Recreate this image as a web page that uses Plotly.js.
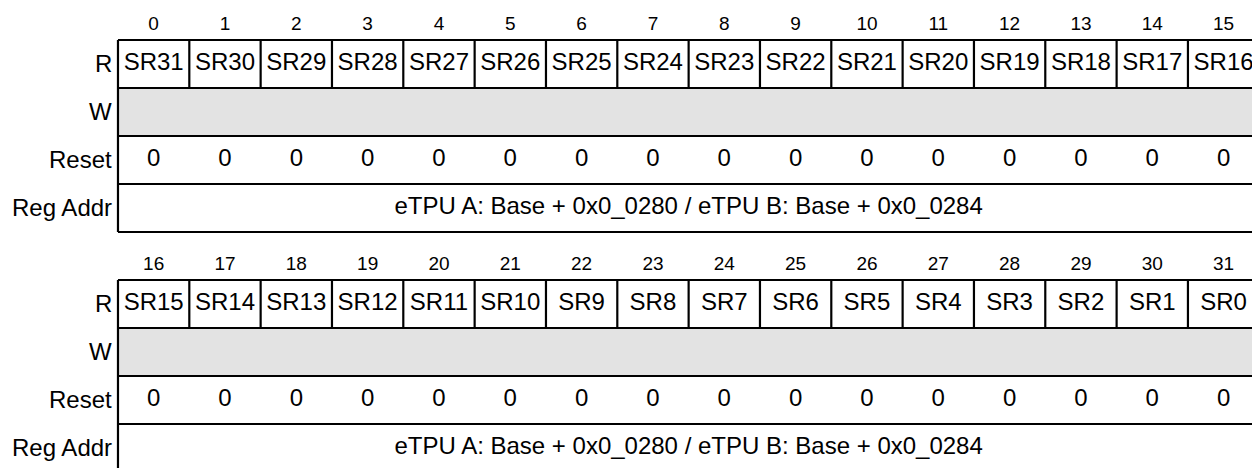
<!DOCTYPE html>
<html>
<head>
<meta charset="utf-8">
<script src="https://cdn.plot.ly/plotly-3.0.1.min.js"></script>
<style>
  html, body { margin: 0; padding: 0; background: #ffffff; }
  #chart { width: 1252px; height: 468px; }
</style>
</head>
<body>
<div id="chart"></div>
<script>
// ---- data ----
const bitNumbersTop = [0, 1, 2, 3, 4, 5, 6, 7, 8, 9, 10, 11, 12, 13, 14, 15];
const bitNumbersBottom = [16, 17, 18, 19, 20, 21, 22, 23, 24, 25, 26, 27, 28, 29, 30, 31];
const fieldNamesTop = ["SR31", "SR30", "SR29", "SR28", "SR27", "SR26", "SR25", "SR24",
                       "SR23", "SR22", "SR21", "SR20", "SR19", "SR18", "SR17", "SR16"];
const fieldNamesBottom = ["SR15", "SR14", "SR13", "SR12", "SR11", "SR10", "SR9", "SR8",
                          "SR7", "SR6", "SR5", "SR4", "SR3", "SR2", "SR1", "SR0"];
const resetValuesTop = [0, 0, 0, 0, 0, 0, 0, 0, 0, 0, 0, 0, 0, 0, 0, 0];
const resetValuesBottom = [0, 0, 0, 0, 0, 0, 0, 0, 0, 0, 0, 0, 0, 0, 0, 0];
const rowLabels = ["R", "W", "Reset", "Reg Addr"];
const regAddrText = "eTPU A: Base + 0x0_0280 / eTPU B: Base + 0x0_0284";

// ---- styling ----
const FONT = "Liberation Sans, Arial, Helvetica, sans-serif";
const MAIN_SIZE = 24;
const BIT_SIZE = 19;
const LINE = { color: "#000000", width: 2.2 };
const W_FILL = "#e3e3e3";

const blocks = [
  { off: 0, bits: bitNumbersTop, names: fieldNamesTop, reset: resetValuesTop },
  { off: 5, bits: bitNumbersBottom, names: fieldNamesBottom, reset: resetValuesBottom }
];

const traces = [];
const shapes = [];
const annotations = [];

blocks.forEach(b => {
  const n = b.names.length;
  const centers = b.names.map((_, i) => i + 0.5);

  // W row grey fill
  shapes.push({ type: "rect", xref: "x", yref: "y", x0: 0, x1: n, y0: b.off + 1, y1: b.off + 2,
                fillcolor: W_FILL, line: { width: 0 }, layer: "below" });
  // horizontal lines
  for (let r = 0; r <= rowLabels.length; r++) {
    shapes.push({ type: "line", xref: "x", yref: "y", x0: 0, x1: n, y0: b.off + r, y1: b.off + r, line: LINE });
  }
  // outer verticals
  shapes.push({ type: "line", xref: "x", yref: "y", x0: 0, x1: 0, y0: b.off, y1: b.off + rowLabels.length, line: LINE });
  shapes.push({ type: "line", xref: "x", yref: "y", x0: n, x1: n, y0: b.off, y1: b.off + rowLabels.length, line: LINE });
  // R-row dividers
  for (let i = 1; i < n; i++) {
    shapes.push({ type: "line", xref: "x", yref: "y", x0: i, x1: i, y0: b.off, y1: b.off + 1, line: LINE });
  }

  // bit numbers
  traces.push({ type: "scatter", mode: "text", x: centers, y: b.bits.map(() => b.off - 0.3125),
                text: b.bits.map(String), textposition: "middle center",
                textfont: { family: FONT, size: BIT_SIZE, color: "#000000" }, hoverinfo: "skip" });
  // field names
  traces.push({ type: "scatter", mode: "text", x: centers, y: b.names.map(() => b.off + 0.5),
                text: b.names, textposition: "middle center",
                textfont: { family: FONT, size: MAIN_SIZE, color: "#000000" }, hoverinfo: "skip" });
  // reset values
  traces.push({ type: "scatter", mode: "text", x: centers, y: b.reset.map(() => b.off + 2.5),
                text: b.reset.map(String), textposition: "middle center",
                textfont: { family: FONT, size: MAIN_SIZE, color: "#000000" }, hoverinfo: "skip" });
  // reg addr
  traces.push({ type: "scatter", mode: "text", x: [n / 2], y: [b.off + 3.5],
                text: [regAddrText], textposition: "middle center",
                textfont: { family: FONT, size: MAIN_SIZE, color: "#000000" }, hoverinfo: "skip" });

  // row labels
  rowLabels.forEach((lab, r) => {
    annotations.push({ xref: "x", yref: "y", x: -0.06, y: b.off + r + 0.5, text: lab,
                       showarrow: false, xanchor: "right", yanchor: "middle",
                       font: { family: FONT, size: MAIN_SIZE, color: "#000000" } });
  });
});

const layout = {
  width: 1252, height: 468,
  margin: { l: 0, r: 0, t: 0, b: 0, pad: 0 },
  paper_bgcolor: "#ffffff", plot_bgcolor: "#ffffff",
  showlegend: false,
  xaxis: { range: [-1.654, 15.898], visible: false, fixedrange: true },
  yaxis: { range: [8.917, -0.833], visible: false, fixedrange: true },
  shapes: shapes,
  annotations: annotations
};

Plotly.newPlot("chart", traces, layout, { staticPlot: true, displayModeBar: false });
</script>
</body>
</html>
